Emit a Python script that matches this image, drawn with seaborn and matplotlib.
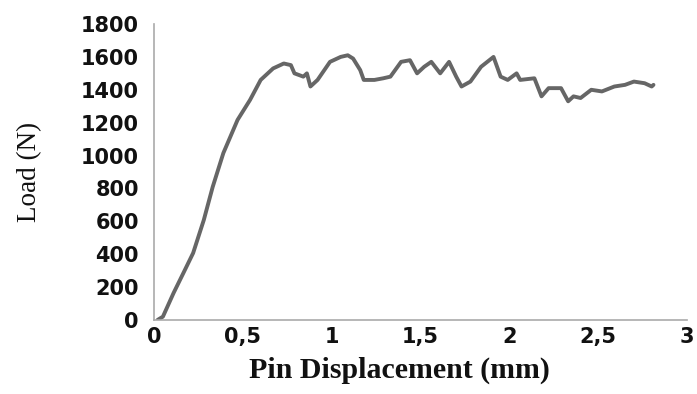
import pandas as pd
import matplotlib.pyplot as plt
import seaborn as sns

# values
displacement = [0.02, 0.05, 0.11, 0.165, 0.22, 0.28, 0.33, 0.39, 0.47, 0.54, 0.60,
                0.67, 0.73, 0.77, 0.79, 0.84, 0.86, 0.88, 0.92, 0.99, 1.05, 1.09,
                1.12, 1.16, 1.18, 1.24, 1.29, 1.33, 1.39, 1.44, 1.48, 1.52, 1.56,
                1.61, 1.66, 1.70, 1.73, 1.78, 1.84, 1.91, 1.95, 1.99, 2.04, 2.06,
                2.14, 2.18, 2.22, 2.29, 2.33, 2.36, 2.40, 2.46, 2.52, 2.59, 2.65,
                2.70, 2.76, 2.80, 2.81]
load = [0, 20, 164, 285, 407, 608, 809, 1015, 1217, 1338, 1460,
        1530, 1560, 1550, 1500, 1480, 1500, 1420, 1460, 1570, 1600, 1610,
        1590, 1520, 1460, 1460, 1470, 1480, 1570, 1580, 1500, 1540, 1570,
        1500, 1570, 1480, 1420, 1450, 1540, 1600, 1480, 1460, 1500, 1460,
        1470, 1360, 1410, 1410, 1330, 1360, 1350, 1400, 1390, 1420, 1430,
        1450, 1440, 1420, 1430]

df = pd.DataFrame({'disp': displacement, 'load': load})

sns.set_style("white")

fig = plt.figure(figsize=(6.97, 3.94), dpi=100)
ax = fig.add_axes([0.221, 0.188, 0.765, 0.751])

sns.lineplot(x='disp', y='load', data=df, ax=ax, color='#666666', linewidth=2.8)

ax.set_xlim(0, 3)
ax.set_ylim(0, 1800)
ax.set_xticks([0, 0.5, 1, 1.5, 2, 2.5, 3])
ax.set_xticklabels(['0', '0,5', '1', '1,5', '2', '2,5', '3'])
ax.set_yticks(range(0, 1801, 200))

for lbl in ax.get_xticklabels() + ax.get_yticklabels():
    lbl.set_fontweight('bold')
    lbl.set_fontsize(15)
    lbl.set_color('#111111')
ax.tick_params(axis='y', length=0, pad=11)
ax.tick_params(axis='x', length=0, pad=5)

for side in ['top', 'right']:
    ax.spines[side].set_visible(False)
for side in ['left', 'bottom']:
    ax.spines[side].set_color('#aaaaaa')
    ax.spines[side].set_linewidth(1.2)

ax.set_xlabel('Pin Displacement (mm)', family='Liberation Serif', fontweight='bold',
              fontsize=21.5, color='#111111')
ax.set_ylabel('Load (N)', family='Liberation Serif', fontsize=19.5, color='#111111')
ax.xaxis.set_label_coords(0.46, -0.125)
ax.yaxis.set_label_coords(-0.21, 0.5)

fig.savefig('out.png', dpi=100)
